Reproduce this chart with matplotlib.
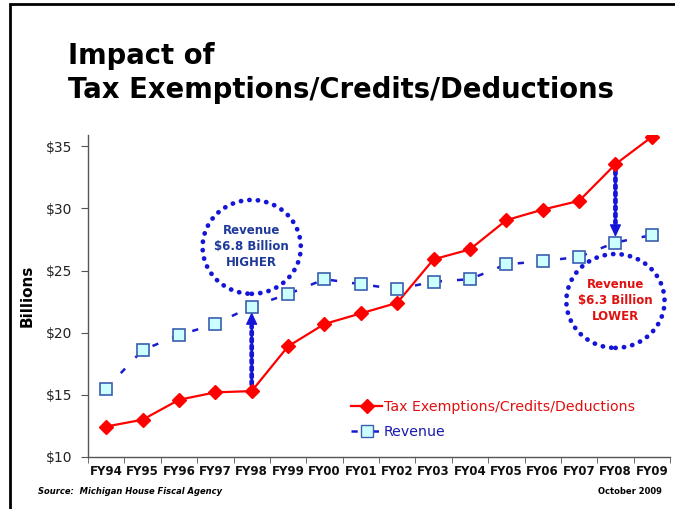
import matplotlib
matplotlib.use("Agg")
import matplotlib.pyplot as plt
from matplotlib.patches import Ellipse, Rectangle
from matplotlib.lines import Line2D

years = ["FY94", "FY95", "FY96", "FY97", "FY98", "FY99", "FY00", "FY01",
         "FY02", "FY03", "FY04", "FY05", "FY06", "FY07", "FY08", "FY09"]
tax_expenditures = [12.45, 13.0, 14.6, 15.2, 15.3, 18.9, 20.7, 21.55,
                    22.4, 25.9, 26.7, 29.05, 29.9, 30.6, 33.55, 35.75]
revenue = [15.5, 18.6, 19.8, 20.7, 22.1, 23.1, 24.3, 23.9,
           23.5, 24.1, 24.3, 25.5, 25.75, 26.1, 27.25, 27.85]
y_ticks = [10, 15, 20, 25, 30, 35]
y_tick_labels = ["$10", "$15", "$20", "$25", "$30", "$35"]

W, H = 675, 509
fig = plt.figure(figsize=(W / 100, H / 100), dpi=100)
fig.patch.set_facecolor("white")

# frame around slide
fig.add_artist(Rectangle((10 / W, -0.05), 1.2, (509 - 4) / H + 0.05,
                         transform=fig.transFigure, fill=False,
                         edgecolor="black", linewidth=2))

ax = fig.add_axes([88 / W, 52 / H, 582 / W, (457 - 135) / H])
x = list(range(len(years)))

red = "#FF0000"
blue = "#1A1AD0"
arrow_blue = "#1515D8"
rev_dash = (0, (2.5, 6))
ax.plot(x, tax_expenditures, color=red, linewidth=1.6, marker="D",
        markersize=7, markerfacecolor=red, markeredgecolor=red, zorder=4)
ax.plot(x, revenue, color=blue, linewidth=1.8, linestyle=rev_dash,
        marker="s", markersize=8, markerfacecolor="#CCFFFF",
        markeredgecolor="#3A5FB0", markeredgewidth=1.2, zorder=4)

ax.set_xlim(-0.5, len(years) - 0.5)
ax.set_ylim(10, 35.9)
ax.set_yticks(y_ticks)
ax.set_yticklabels(y_tick_labels, fontsize=10, color="#222222")
ax.set_xticks(x)
ax.set_xticklabels(years, fontsize=8.5, fontweight="bold", color="#111111")
ax.tick_params(axis="x", length=0, pad=6)
ax.set_xticks([i - 0.5 for i in range(len(years) + 1)], minor=True)
ax.tick_params(axis="x", which="minor", length=4, direction="out", color="#555555")
ax.tick_params(axis="y", length=5, direction="out", color="#555555", pad=6)
for s in ["top", "right"]:
    ax.spines[s].set_visible(False)
for s in ["left", "bottom"]:
    ax.spines[s].set_color("#555555")
    ax.spines[s].set_linewidth(1)
ax.set_ylabel("Billions", fontsize=11, fontweight="bold", labelpad=8)

# annotations: dotted circles
dot_style = dict(fill=False, edgecolor=arrow_blue, linewidth=3.4,
                 linestyle=(0, (0.05, 1.75)), capstyle="round", zorder=5)
ax.add_patch(Ellipse((4, 26.9), 2.7, 7.55, **dot_style))
ax.add_patch(Ellipse((14, 22.55), 2.7, 7.55, **dot_style))
ax.text(4, 26.9, "Revenue\n$6.8 Billion\nHIGHER", ha="center", va="center",
        fontsize=8.5, fontweight="bold", color="#1F3A9A", linespacing=1.3)
ax.text(14, 22.55, "Revenue\n$6.3 Billion\nLOWER", ha="center", va="center",
        fontsize=8.5, fontweight="bold", color="#E01010", linespacing=1.3)

# annotations: dotted arrows (dotted shaft + solid head)
for i, direction in [(4, 1), (14, -1)]:
    start = tax_expenditures[i]
    end = revenue[i]
    ax.annotate("", xy=(i, end), xytext=(i, start),
                arrowprops=dict(arrowstyle="-", color=arrow_blue,
                                linewidth=3.4, linestyle=(0, (0.6, 0.9)),
                                shrinkA=5, shrinkB=14),
                zorder=3)
    ax.annotate("", xy=(i, end), xytext=(0, -14 * direction),
                textcoords="offset points",
                arrowprops=dict(arrowstyle="-|>,head_width=0.35,head_length=0.75",
                                color=arrow_blue, linewidth=1,
                                shrinkA=0, shrinkB=4),
                zorder=3)

# legend
h1 = Line2D([], [], color=red, linewidth=1.6, marker="D", markersize=7,
            markerfacecolor=red, markeredgecolor=red)
h2 = Line2D([], [], color=blue, linewidth=1.8, linestyle=rev_dash,
            marker="s", markersize=8, markerfacecolor="#CCFFFF",
            markeredgecolor="#3A5FB0")
leg = ax.legend([h1, h2], ["Tax Exemptions/Credits/Deductions", "Revenue"],
                loc="lower left", bbox_to_anchor=(0.43, 0.015), frameon=False,
                fontsize=10.2, handlelength=2.2, handletextpad=0.1,
                labelspacing=0.8)
leg.get_texts()[0].set_color("#E01010")
leg.get_texts()[1].set_color("#1A1AB0")

# titles
fig.text(68 / W, 1 - 56 / H, "Impact of", fontsize=19.8, fontweight="bold",
         va="center", ha="left")
fig.text(68 / W, 1 - 90 / H, "Tax Exemptions/Credits/Deductions", fontsize=19.8,
         fontweight="bold", va="center", ha="left")

fig.text(38 / W, 1 - 491 / H, "Source:  Michigan House Fiscal Agency",
         fontsize=6, fontweight="bold", style="italic", va="center")
fig.text(662 / W, 1 - 491 / H, "October 2009", fontsize=6,
         fontweight="bold", va="center", ha="right")

fig.savefig("out.png", dpi=100)
